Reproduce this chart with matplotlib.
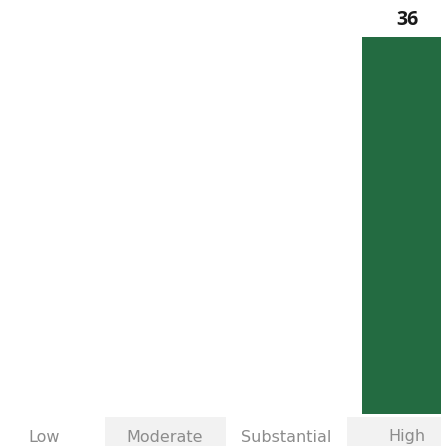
import matplotlib
matplotlib.use('Agg')
import matplotlib.pyplot as plt
from matplotlib.patches import Rectangle

# --- Data ---
categories = ['Low', 'Moderate', 'Substantial', 'High']
counts = [0, 0, 0, 36]

bar_color = '#236b41'
band_color = '#f2f2f2'
label_color = '#8c8c8c'

W, H = 441, 446
fig = plt.figure(figsize=(W / 100, H / 100), dpi=100)

# geometry in pixels
band_top = 417
plot_bottom = 414
col_w = 121.0
first_center = 44.0
x_left = -first_center / col_w
x_right = (W - first_center) / col_w

# main bar axes
ax = fig.add_axes([0, (H - plot_bottom) / H, 1, plot_bottom / H])
x = list(range(len(categories)))
ymax = 36 * plot_bottom / (plot_bottom - 37)
bars = ax.bar(x, counts, width=0.74, color=bar_color)
for xi, v in zip(x, counts):
    if v > 0:
        ax.text(xi, v + ymax * 12 / plot_bottom, f'{v}', ha='center', va='baseline',
                fontsize=14, fontweight='bold', color='#1a1a1a', family='Open Sans')
ax.set_xlim(x_left, x_right)
ax.set_ylim(0, ymax)
ax.axis('off')

# label band axes
band_h = H - band_top
lab = fig.add_axes([0, 0, 1, band_h / H])
lab.set_xlim(x_left, x_right)
lab.set_ylim(0, 1)
lab.axis('off')
for i, name in enumerate(categories):
    if i % 2 == 1:
        lab.add_patch(Rectangle((i - 0.5, 0), 1, 1, facecolor=band_color, edgecolor='none'))
    lab.text(i, 4.5 / band_h, name, ha='center', va='baseline', fontsize=11.5,
             color=label_color, family='DejaVu Sans')

plt.savefig('out.png', dpi=100)
